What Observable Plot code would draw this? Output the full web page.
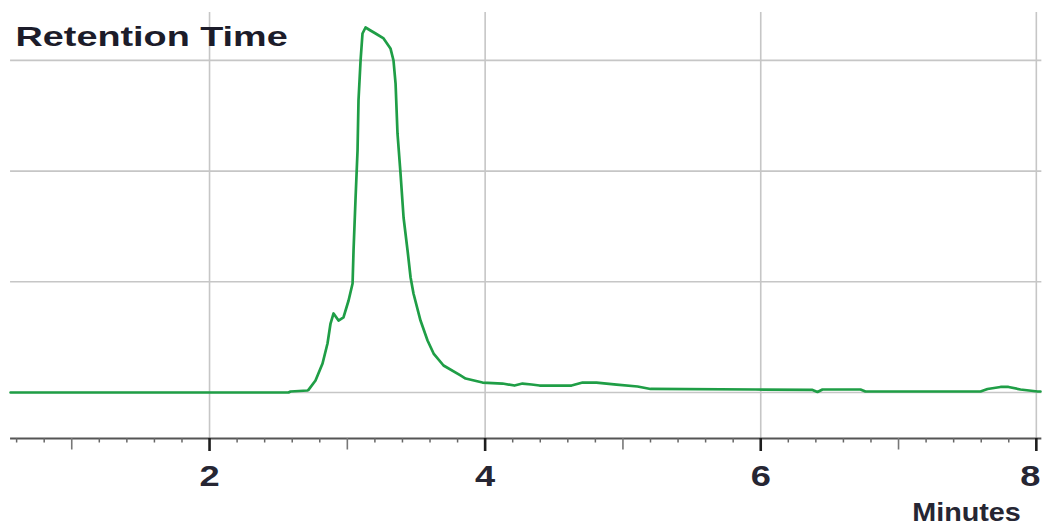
<!DOCTYPE html>
<html>
<head>
<meta charset="utf-8">
<script src="https://cdn.jsdelivr.net/npm/d3@7"></script>
<script src="https://cdn.jsdelivr.net/npm/@observablehq/plot@0.6"></script>
<style>
  html, body { margin: 0; padding: 0; background: #ffffff; }
  #chart svg { display: block; }
</style>
</head>
<body>
<div id="chart"></div>
<script>
// --- data ---
const titleText = "Retention Time";
const xLabel = "Minutes";
const time = [0.556, 2.573, 2.588, 2.711, 2.718, 2.769, 2.820, 2.856, 2.878, 2.900, 2.936, 2.972, 3.009, 3.038, 3.045, 3.059, 3.074, 3.081, 3.096, 3.110, 3.132, 3.168, 3.205, 3.263, 3.313, 3.335, 3.350, 3.364, 3.386, 3.408, 3.437, 3.459, 3.480, 3.531, 3.582, 3.626, 3.698, 3.821, 3.858, 3.981, 4.126, 4.213, 4.271, 4.337, 4.395, 4.627, 4.707, 4.808, 4.954, 5.106, 5.200, 5.962, 6.376, 6.412, 6.448, 6.724, 6.760, 7.595, 7.646, 7.740, 7.798, 7.885, 8.009, 8.030];
const signal = [0.000, 0.000, 0.009, 0.018, 0.024, 0.108, 0.262, 0.443, 0.623, 0.714, 0.650, 0.678, 0.831, 0.985, 1.283, 1.734, 2.186, 2.638, 2.999, 3.243, 3.297, 3.270, 3.243, 3.198, 3.108, 2.999, 2.791, 2.340, 1.978, 1.581, 1.283, 1.039, 0.894, 0.650, 0.470, 0.352, 0.244, 0.154, 0.126, 0.090, 0.081, 0.063, 0.081, 0.072, 0.063, 0.063, 0.090, 0.090, 0.072, 0.054, 0.032, 0.027, 0.023, 0.005, 0.027, 0.027, 0.009, 0.009, 0.032, 0.050, 0.050, 0.027, 0.009, 0.009];
const majorTicks = [2, 4, 6, 8];
const majorLabels = ["2", "4", "6", "8"];
const midTicks = [1, 3, 5, 7];
const minorTicks = [0.6, 0.8, 1.2, 1.4, 1.6, 1.8, 2.2, 2.4, 2.6, 2.8, 3.2, 3.4, 3.6, 3.8, 4.2, 4.4, 4.6, 4.8, 5.2, 5.4, 5.6, 5.8, 6.2, 6.4, 6.6, 6.8, 7.2, 7.4, 7.6, 7.8];
const yGrid = [0, 1, 2, 3];

const rows = time.map((t, i) => ({t, v: signal[i]}));
const labelRows = majorTicks.map((t, i) => ({t, label: majorLabels[i]}));

const xMin = 0.483, xMax = 8.052;
const yBottom = -0.4155, yTop = 3.541;
const lineStart = 0.556, lineEnd = 8.04;
const pxPerUnitY = 110.7;

const chart = Plot.plot({
  width: 1043,
  height: 526,
  marginLeft: 0,
  marginRight: 0,
  marginTop: 0,
  marginBottom: 88,
  style: {background: "#ffffff", fontFamily: "'Liberation Sans', Arial, sans-serif"},
  x: {domain: [xMin, xMax], axis: null},
  y: {domain: [yBottom, yTop], axis: null},
  marks: [
    // horizontal grid
    Plot.ruleY(yGrid, {x1: lineStart, x2: lineEnd, stroke: "#c6c6c6", strokeWidth: 1.6}),
    // vertical grid
    Plot.ruleX(majorTicks, {y1: 3.433, y2: yBottom, stroke: "#c6c6c6", strokeWidth: 1.6}),
    // axis line
    Plot.ruleY([yBottom], {x1: lineStart, x2: lineEnd, stroke: "#555555", strokeWidth: 2}),
    // ticks
    Plot.ruleX(minorTicks, {y1: yBottom, y2: yBottom - 4.5 / pxPerUnitY, stroke: "#666666", strokeWidth: 1.5}),
    Plot.ruleX(midTicks, {y1: yBottom, y2: yBottom - 11.5 / pxPerUnitY, stroke: "#777777", strokeWidth: 1.6}),
    Plot.ruleX(majorTicks, {y1: yBottom, y2: yBottom - 13 / pxPerUnitY, stroke: "#1e1e1e", strokeWidth: 2.6}),
    // chromatogram trace
    Plot.line(rows, {x: "t", y: "v", stroke: "#1f9e46", strokeWidth: 2.7, strokeLinejoin: "round"}),
    // tick labels
    Plot.text(labelRows, {x: "t", text: "label", frameAnchor: "bottom", dy: 47, lineAnchor: "bottom", textAnchor: "middle", fontSize: 29, fontWeight: "bold", fill: "#262633"}),
    // title
    Plot.text([titleText], {frameAnchor: "top-left", dx: 15, dy: 45, lineAnchor: "bottom", textAnchor: "start", fontSize: 28, fontWeight: "bold", fill: "#1c1c2a"}),
    // x label
    Plot.text([xLabel], {frameAnchor: "bottom-right", dx: -77, dy: 82, lineAnchor: "bottom", textAnchor: "middle", fontSize: 25, fontWeight: "bold", fill: "#262633"})
  ]
});

// the reference's text is horizontally stretched; reproduce that
d3.select(chart).selectAll("text").each(function () {
  const s = this.textContent;
  const k = s === titleText ? 1.35 : s === xLabel ? 1.15 : 1.25;
  let tr = this.getAttribute("transform") || "";
  const x = this.getAttribute("x"), y = this.getAttribute("y");
  if (x != null || y != null) {
    tr += ` translate(${x || 0},${y || 0})`;
    this.removeAttribute("x");
    this.removeAttribute("y");
  }
  // keep the last tick label inside the picture
  if (s === majorLabels[majorLabels.length - 1]) tr += " translate(-6,0)";
  this.setAttribute("transform", (tr + ` scale(${k},1)`).trim());
});

document.getElementById("chart").appendChild(chart);
</script>
</body>
</html>
